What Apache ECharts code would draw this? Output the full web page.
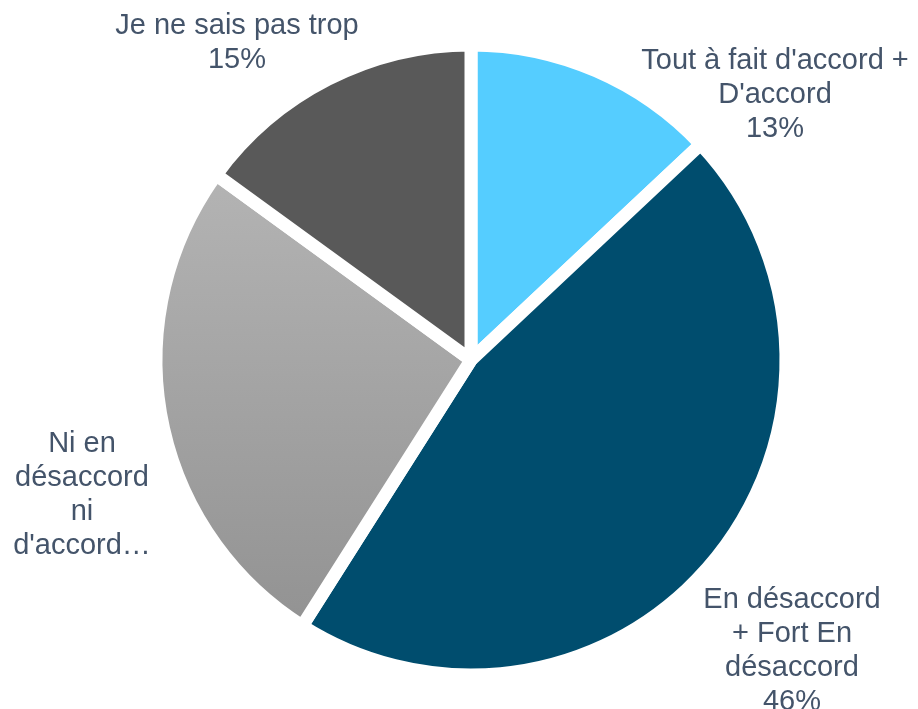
<!DOCTYPE html>
<html>
<head>
<meta charset="utf-8">
<script src="https://cdn.jsdelivr.net/npm/echarts@6/dist/echarts.min.js"></script>
<style>
  html, body { margin: 0; padding: 0; background: #ffffff; }
  #chart { width: 918px; height: 709px; }
</style>
</head>
<body>
<div id="chart"></div>
<script>
// Survey answers, clockwise from twelve o'clock
const categories = [
  "Tout à fait d'accord +\nD'accord",
  "En désaccord\n+ Fort En\ndésaccord",
  "Ni en\ndésaccord\nni\nd'accord…",
  "Je ne sais pas trop"
];
const values = [13, 46, 26, 15];
const showPercent = [true, true, false, true];

// Slice fills
const sliceColors = [
  '#55cdff',
  '#004d6e',
  { type: 'linear', x: 0, y: 0, x2: 0, y2: 1,
    colorStops: [{ offset: 0, color: '#b4b4b4' }, { offset: 1, color: '#929292' }] },
  '#595959'
];

// Where each label block is centred
const labelCenters = [
  [775, 95],
  [792, 651],
  [82, 495],
  [237, 43]
];

const chart = echarts.init(document.getElementById('chart'), null, { renderer: 'canvas' });

chart.setOption({
  animation: false,
  backgroundColor: '#ffffff',
  series: [{
    type: 'pie',
    center: [471, 360],
    radius: [0, 315],
    startAngle: 90,
    clockwise: true,
    avoidLabelOverlap: false,
    itemStyle: { borderColor: '#ffffff', borderWidth: 13 },
    label: {
      show: true,
      position: 'outside',
      color: '#44546a',
      fontFamily: 'Liberation Sans, Arial, sans-serif',
      fontSize: 29,
      lineHeight: 34,
      align: 'center',
      formatter: function (p) {
        return showPercent[p.dataIndex] ? p.name + '\n' + p.value + '%' : p.name;
      }
    },
    labelLine: { show: false },
    labelLayout: function (p) {
      const c = labelCenters[p.dataIndex];
      return { x: c[0], y: c[1], align: 'center', verticalAlign: 'middle' };
    },
    emphasis: { disabled: true },
    data: categories.map(function (name, i) {
      return { name: name, value: values[i], itemStyle: { color: sliceColors[i] } };
    })
  }]
});
</script>
</body>
</html>
